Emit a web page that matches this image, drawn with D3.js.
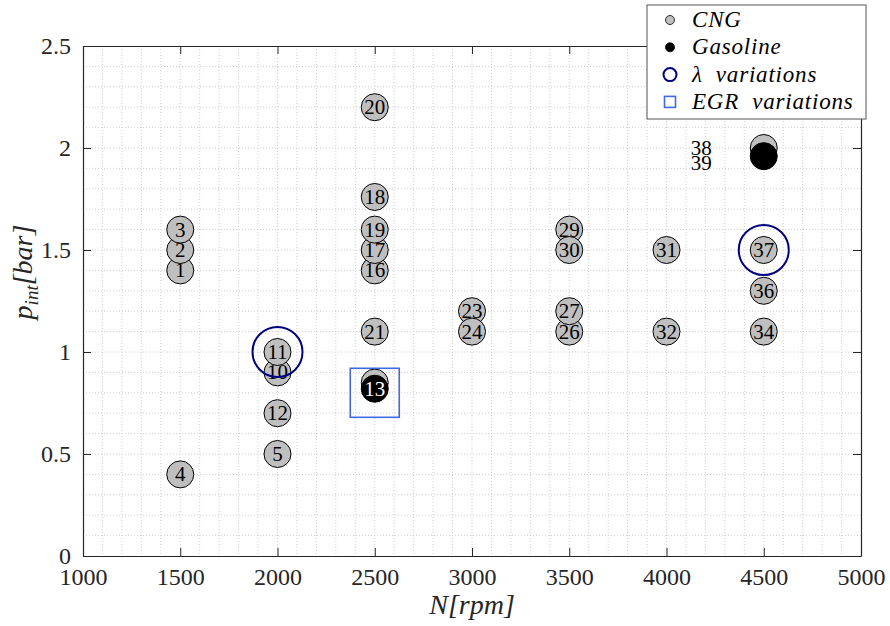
<!DOCTYPE html>
<meta charset="UTF-8">
<style>
  body { margin: 0; background: #fff; }
  svg text { font-family: "Liberation Serif", "DejaVu Serif", serif; fill: #262626; }
  .grid line { stroke: #cfcfcf; stroke-width: 1; stroke-dasharray: 1,2; }
  .pt circle { stroke: #000; stroke-width: 1; }
  .pt text { font-size: 21px; }
  .leg text { font-style: italic; font-size: 23px; letter-spacing: 0.8px; fill: #000; }
</style>
<body>
<script src="https://cdn.jsdelivr.net/npm/d3@7/dist/d3.min.js"></script>
<script>
// operating points: engine speed, intake pressure, point number, fuel
var speed    = [1500, 1500, 1500, 1500, 2000, 2000, 2000, 2000, 2500, 2500, 2500, 2500, 2500, 2500, 2500, 2500, 3000, 3000, 3500, 3500, 3500, 3500, 4000, 4000, 4500, 4500, 4500, 4500, 4500];
var pint     = [1.4,  1.5,  1.6,  0.4,  0.5,  0.9,  1.0,  0.7,  0.85, 0.82, 1.4,  1.5,  1.76, 1.6,  2.2,  1.1,  1.2,  1.1,  1.1,  1.2,  1.6,  1.5,  1.5,  1.1,  1.1,  1.3,  1.5,  2.0,  1.96];
var pointNo  = [1,    2,    3,    4,    5,    10,   11,   12,   14,   13,   16,   17,   18,   19,   20,   21,   23,   24,   26,   27,   29,   30,   31,   32,   34,   36,   37,   38,   39];
var fuel     = ["CNG","CNG","CNG","CNG","CNG","CNG","CNG","CNG","CNG","Gasoline","CNG","CNG","CNG","CNG","CNG","CNG","CNG","CNG","CNG","CNG","CNG","CNG","CNG","CNG","CNG","CNG","CNG","CNG","Gasoline"];
var hiddenLabel = [14];

// lambda sweeps and EGR sweep
var lambdaN = [2000, 4500];
var lambdaP = [1.0, 1.5];
var egrN = [2500];
var egrP = [0.8];

var xTicks = [1000, 1500, 2000, 2500, 3000, 3500, 4000, 4500, 5000];
var yTicks = [0, 0.5, 1, 1.5, 2, 2.5];
var legendLabels = ["CNG", "Gasoline", "\u03bb  variations", "EGR  variations"];

var W = 890, H = 626;
var mLeft = 83, mRight = 861, mTop = 46, mBottom = 556;

var svg = d3.select("body").append("svg")
  .attr("width", W).attr("height", H);

var x = d3.scaleLinear().domain([1000, 5000]).range([mLeft, mRight]);
var y = d3.scaleLinear().domain([0, 2.5]).range([mBottom, mTop]);

// dotted grid (major + minor)
var grid = svg.append("g").attr("class", "grid");
grid.selectAll(".gx").data(d3.range(1100, 5000, 100)).enter().append("line")
  .attr("x1", d => x(d)).attr("x2", d => x(d))
  .attr("y1", mTop).attr("y2", mBottom);
grid.selectAll(".gy").data(d3.range(1, 25).map(d => d / 10)).enter().append("line")
  .attr("y1", d => y(d)).attr("y2", d => y(d))
  .attr("x1", mLeft).attr("x2", mRight);

// axes, boxed like the original
var axColor = "#262626";
var xb = svg.append("g").attr("transform", "translate(0," + mBottom + ")")
  .call(d3.axisBottom(x).tickValues(xTicks).tickSizeInner(-8).tickSizeOuter(0).tickPadding(12)
    .tickFormat(d3.format("d")));
var xt = svg.append("g").attr("transform", "translate(0," + mTop + ")")
  .call(d3.axisTop(x).tickValues(xTicks).tickSizeInner(-8).tickSizeOuter(0).tickFormat(""));
var yl = svg.append("g").attr("transform", "translate(" + mLeft + ",0)")
  .call(d3.axisLeft(y).tickValues(yTicks).tickSizeInner(-8).tickSizeOuter(0).tickPadding(12)
    .tickFormat(d => d % 1 === 0 ? d3.format("d")(d) : d3.format(".1f")(d)));
var yr = svg.append("g").attr("transform", "translate(" + mRight + ",0)")
  .call(d3.axisRight(y).tickValues(yTicks).tickSizeInner(-8).tickSizeOuter(0).tickFormat(""));
[xb, xt, yl, yr].forEach(function(g) {
  g.select(".domain").attr("stroke", axColor).attr("stroke-width", 1.2);
  g.selectAll(".tick line").attr("stroke", axColor);
  g.selectAll(".tick text").attr("fill", axColor).style("font-size", "24px")
    .style("font-family", "'Liberation Serif', serif");
});

// operating points, drawn in order with their number
var pts = pointNo.map(function(n, i) {
  return { n: n, N: speed[i], p: pint[i], fuel: fuel[i] };
});
var g = svg.selectAll(".pt").data(pts).enter().append("g")
  .attr("class", "pt")
  .attr("transform", d => "translate(" + x(d.N) + "," + y(d.p) + ")");
g.append("circle").attr("r", 13.5)
  .attr("fill", d => d.fuel === "CNG" ? "#bfbfbf" : "#000");
g.filter(d => hiddenLabel.indexOf(d.n) < 0).append("text")
  .attr("text-anchor", d => d.n >= 38 ? "end" : "middle")
  // 38 / 39 overlap, so their numbers sit to the left of the markers
  .attr("x", d => d.n >= 38 ? -52 : 0)
  .attr("y", d => d.n === 38 ? 7 : d.n === 39 ? 14 : 7)
  .style("fill", d => d.fuel === "Gasoline" && d.n < 38 ? "#fff" : "#000")
  .text(d => d.n);

// lambda variation rings
svg.selectAll(".lam").data(lambdaN).enter().append("circle")
  .attr("cx", d => x(d)).attr("cy", (d, i) => y(lambdaP[i]))
  .attr("r", 25).attr("fill", "none")
  .attr("stroke", "#000080").attr("stroke-width", 2);

// EGR variation box
svg.selectAll(".egr").data(egrN).enter().append("rect")
  .attr("x", d => x(d) - 24.5).attr("y", (d, i) => y(egrP[i]) - 24.5)
  .attr("width", 49).attr("height", 49).attr("fill", "none")
  .attr("stroke", "#4169e1").attr("stroke-width", 1.6);

// axis labels
svg.append("text").attr("x", (mLeft + mRight) / 2).attr("y", 614)
  .attr("text-anchor", "middle").style("font-size", "28px").style("font-style", "italic")
  .text("N[rpm]");
var ylab = svg.append("text")
  .attr("transform", "translate(32," + 272 + ") rotate(-90)")
  .attr("text-anchor", "middle").style("font-size", "28px").style("font-style", "italic");
ylab.append("tspan").text("p");
ylab.append("tspan").attr("dy", 6).style("font-size", "19px").text("int");
ylab.append("tspan").attr("dy", -6).text("[bar]");

// legend
var leg = svg.append("g").attr("class", "leg");
leg.append("rect").attr("x", 647).attr("y", 5).attr("width", 219).attr("height", 114)
  .attr("fill", "#fff").attr("stroke", "#555").attr("stroke-width", 1);
var rows = leg.selectAll(".row").data(legendLabels).enter().append("g")
  .attr("transform", (d, i) => "translate(670," + (20 + i * 27.3) + ")");
rows.each(function(d, i) {
  var r = d3.select(this);
  if (i < 2) {
    r.append("circle").attr("r", 4.5).attr("fill", i === 0 ? "#bfbfbf" : "#000")
      .attr("stroke", "#000").attr("stroke-width", 0.8);
  } else if (i === 2) {
    r.append("circle").attr("r", 6.5).attr("fill", "none")
      .attr("stroke", "#000080").attr("stroke-width", 2);
  } else {
    r.append("rect").attr("x", -5.5).attr("y", -5.5).attr("width", 11).attr("height", 11)
      .attr("fill", "none").attr("stroke", "#4169e1").attr("stroke-width", 1.6);
  }
  r.append("text").attr("x", 22).attr("y", 7).attr("xml:space", "preserve").text(d);
});
</script>
</body>
